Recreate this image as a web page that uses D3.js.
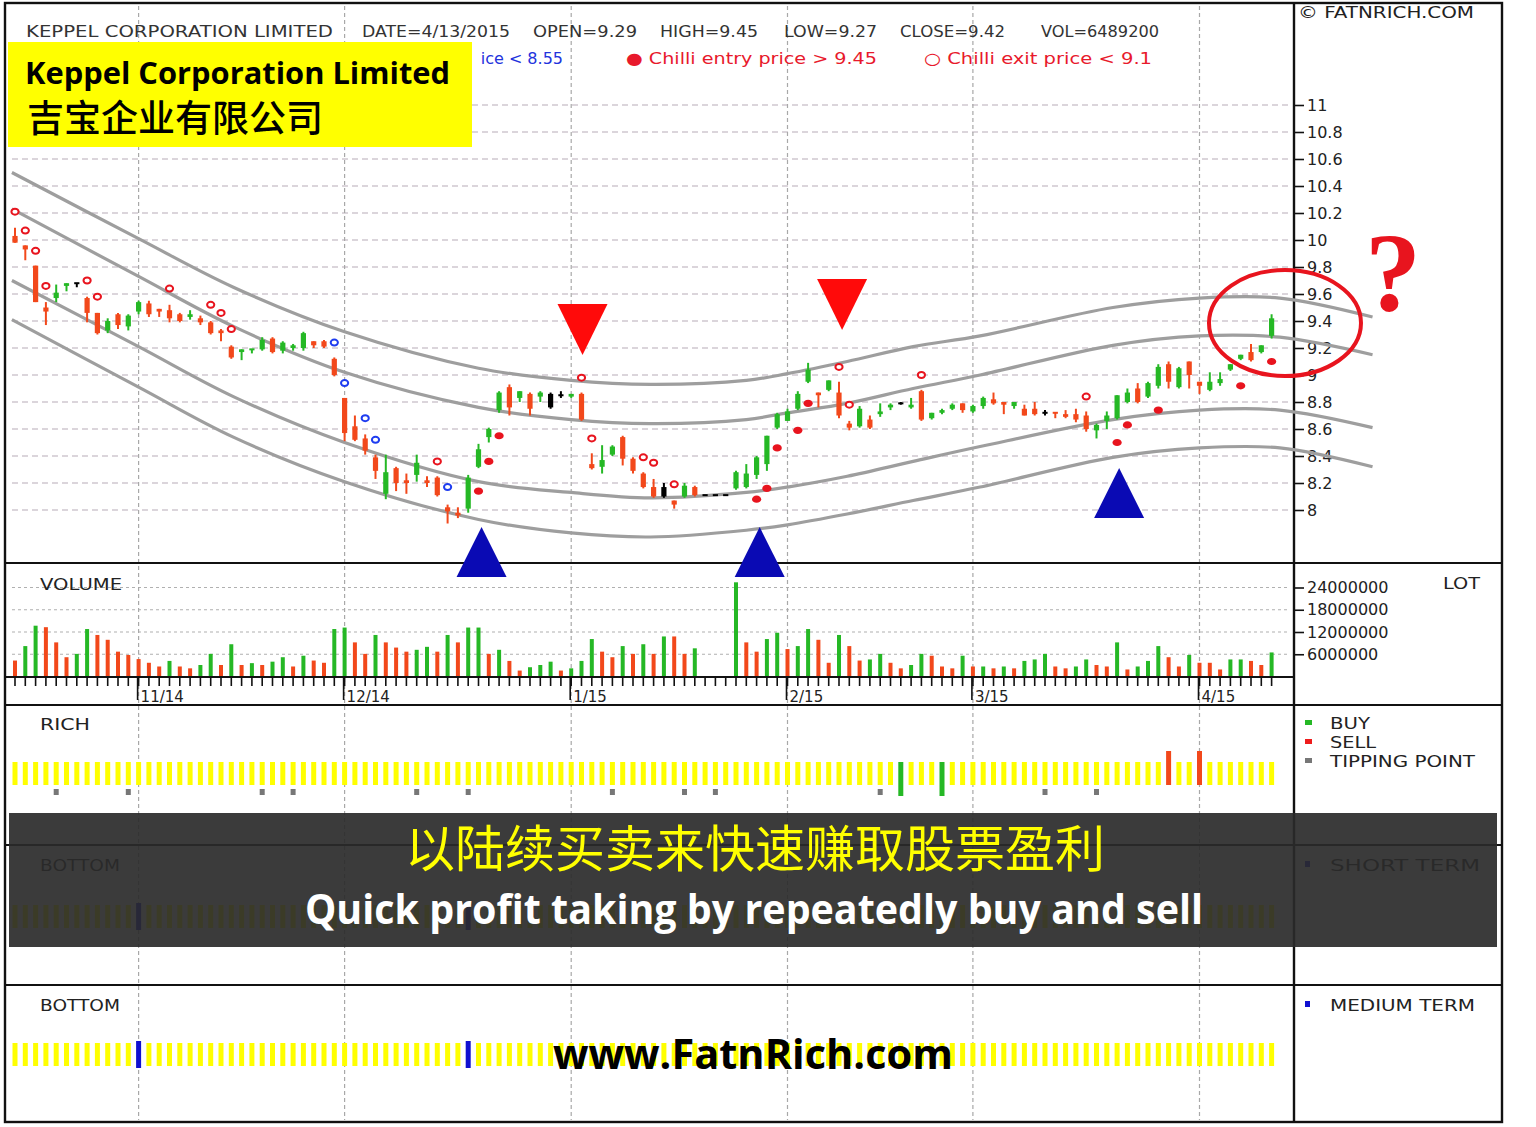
<!DOCTYPE html>
<html><head><meta charset="utf-8">
<script src="https://cdn.jsdelivr.net/npm/d3@7"></script>
<style>body{margin:0;background:#fff}svg{display:block}</style>
</head><body>
<svg id="c" width="1536" height="1127"></svg>
<script>
// ---------------- DATA ----------------
const monthLabels = ["11/14","12/14","1/15","2/15","3/15","4/15"];
const monthIdx = [12,32,54,75,93,115];

const open = [10.03,9.96,9.81,9.50,9.57,9.66,9.68,9.57,9.46,9.33,9.45,9.36,9.47,9.53,9.49,9.48,9.45,9.43,9.42,9.39,
9.33,9.21,9.17,9.18,9.19,9.27,9.18,9.20,9.20,9.25,9.25,9.12,8.83,8.62,8.53,8.39,8.12,8.31,8.22,8.26,
8.22,8.24,8.02,7.98,8.01,8.32,8.54,8.74,8.91,8.83,8.86,8.84,8.86,8.85,8.84,8.86,8.34,8.32,8.41,8.54,
8.38,8.27,8.17,8.17,8.07,8.10,8.17,8.11,8.11,8.11,8.16,8.17,8.26,8.34,8.61,8.66,8.75,8.95,8.87,8.89,
8.87,8.64,8.62,8.67,8.71,8.76,8.79,8.76,8.88,8.68,8.72,8.75,8.79,8.73,8.77,8.82,8.80,8.77,8.75,8.75,
8.72,8.72,8.71,8.71,8.70,8.59,8.66,8.68,8.80,8.90,8.84,8.92,9.08,8.91,9.10,8.95,8.89,8.94,9.04,9.12,
9.17,9.17,9.29];
const high = [10.09,9.96,9.81,9.54,9.67,9.68,9.68,9.58,9.46,9.42,9.46,9.45,9.55,9.55,9.49,9.52,9.46,9.48,9.44,9.40,
9.34,9.22,9.19,9.19,9.28,9.28,9.25,9.23,9.32,9.25,9.26,9.13,8.83,8.70,8.56,8.41,8.41,8.32,8.27,8.41,
8.25,8.25,8.04,8.02,8.26,8.49,8.61,8.88,8.93,8.88,8.87,8.88,8.87,8.88,8.86,8.87,8.42,8.48,8.48,8.55,
8.39,8.28,8.23,8.20,8.07,8.20,8.18,8.11,8.11,8.11,8.29,8.34,8.40,8.55,8.72,8.75,8.88,9.09,8.87,8.96,
8.95,8.66,8.77,8.70,8.79,8.79,8.80,8.83,8.89,8.72,8.75,8.79,8.79,8.78,8.84,8.87,8.80,8.80,8.78,8.80,
8.74,8.72,8.74,8.75,8.73,8.64,8.73,8.85,8.90,8.94,8.95,9.08,9.10,9.06,9.10,8.95,9.02,9.02,9.08,9.15,
9.23,9.22,9.45];
const low = [9.98,9.85,9.54,9.37,9.54,9.62,9.65,9.39,9.30,9.31,9.34,9.33,9.45,9.43,9.43,9.39,9.39,9.41,9.37,9.30,
9.25,9.12,9.11,9.16,9.18,9.16,9.16,9.18,9.18,9.20,9.20,8.99,8.51,8.51,8.41,8.23,8.08,8.14,8.12,8.21,
8.17,8.10,7.90,7.94,7.98,8.31,8.50,8.72,8.70,8.80,8.70,8.80,8.75,8.83,8.83,8.66,8.30,8.27,8.40,8.33,
8.27,8.16,8.09,8.09,8.01,8.09,8.10,8.11,8.11,8.11,8.15,8.16,8.23,8.29,8.60,8.66,8.74,8.94,8.76,8.88,
8.68,8.59,8.61,8.60,8.69,8.74,8.78,8.75,8.66,8.67,8.71,8.74,8.72,8.72,8.75,8.78,8.71,8.75,8.70,8.70,
8.70,8.68,8.68,8.65,8.58,8.53,8.60,8.67,8.79,8.79,8.83,8.90,8.90,8.90,8.90,8.86,8.88,8.92,9.03,9.11,
9.10,9.16,9.27];
const close = [9.98,9.93,9.54,9.47,9.61,9.68,9.68,9.46,9.31,9.40,9.37,9.44,9.54,9.45,9.47,9.42,9.40,9.45,9.39,9.31,
9.31,9.13,9.19,9.19,9.26,9.17,9.24,9.22,9.31,9.22,9.21,9.00,8.57,8.52,8.44,8.29,8.28,8.20,8.20,8.35,
8.20,8.11,7.99,7.96,8.24,8.45,8.60,8.87,8.76,8.88,8.75,8.87,8.76,8.85,8.86,8.67,8.31,8.37,8.47,8.38,
8.29,8.17,8.10,8.10,8.04,8.18,8.11,8.11,8.11,8.11,8.28,8.27,8.39,8.55,8.71,8.73,8.86,9.04,8.85,8.96,
8.70,8.61,8.75,8.61,8.73,8.78,8.79,8.78,8.67,8.72,8.74,8.78,8.74,8.77,8.83,8.79,8.78,8.80,8.70,8.71,
8.72,8.71,8.69,8.67,8.60,8.63,8.70,8.85,8.87,8.80,8.94,9.06,8.95,9.05,9.00,8.92,8.95,8.97,9.08,9.15,
9.11,9.22,9.42];
const unchangedIdx = [6,52,53,63,67,68,69,86,100];

const volumeM = [4.3,8.2,13.7,13.3,9.2,5.2,6.1,12.8,11.2,9.9,6.7,5.8,4.7,3.7,2.7,4.2,2.7,2.2,3.1,6.1,
3.1,8.7,3.1,3.6,3.1,4.0,5.2,2.7,5.6,4.3,3.7,12.8,13.2,9.2,6.1,11.2,9.2,7.8,6.7,7.2,
8.0,6.7,11.2,9.2,13.2,13.2,6.1,7.2,4.2,1.6,2.5,3.1,4.0,1.6,2.2,4.2,10.1,6.7,5.2,8.2,
6.1,8.7,6.1,10.8,10.8,6.1,7.6,0,0,0,25.4,9.2,6.7,10.1,11.8,7.4,8.2,12.8,9.9,3.7,
11.2,8.2,4.3,4.6,6.1,3.7,2.2,3.1,6.1,5.6,2.7,2.2,5.6,2.7,2.7,2.2,2.7,2.2,4.2,4.6,
6.1,2.7,2.2,2.7,4.6,3.1,2.7,9.2,1.9,2.7,4.2,8.2,5.2,2.7,5.8,3.7,3.7,1.9,4.6,4.6,
4.2,3.1,6.4892];
const volumeSide = ("rggrrrggrr"+"rrrrrgrrgg"+"rgrgrggrgr"+"rggrrgrrrg"+"grgrggrgrr"+"gggrgggrrg"+
  "rgrgrrgggg"+"grrggrggrr"+"grrggrrggr"+"rrgrgrgrgg"+"grrggrrgrg"+"ggrrgrrrgg"+"rrg").split("");

const exitRed = [[0,10.21],[1,10.07],[2,9.92],[3,9.66],[7,9.70],[8,9.58],[15,9.64],[19,9.52],[20,9.46],[21,9.34],
  [41,8.36],[55,8.98],[56,8.53],[61,8.39],[62,8.35],[64,8.19],[80,9.06],[81,8.78],[88,9.00],[104,8.84]];
const entryRed = [[45,8.14],[46,8.36],[47,8.55],[72,8.08],[73,8.16],[74,8.46],[76,8.59],[77,8.79],
  [107,8.50],[108,8.63],[111,8.74],[119,8.92],[122,9.10]];
const exitBlue = [[31,9.24],[32,8.94],[34,8.68],[35,8.52],[42,8.17]];

const bandIdx = [-0.3,12,21.2,32,45,54,61.7,71,75,80.8,87.2,93.7,106.6,115,122.8,131.8];
const bandA = [10.50,10.01,9.65,9.32,9.05,8.96,8.93,8.96,9.01,9.10,9.21,9.29,9.50,9.57,9.57,9.43];
const bandB = [10.23,9.73,9.36,9.02,8.76,8.67,8.64,8.67,8.72,8.79,8.90,9.00,9.22,9.29,9.28,9.15];
const bandC = [9.70,9.21,8.84,8.50,8.21,8.13,8.09,8.13,8.17,8.25,8.36,8.47,8.67,8.74,8.74,8.61];
const bandD = [9.41,8.91,8.54,8.21,7.93,7.83,7.80,7.85,7.89,7.97,8.07,8.17,8.39,8.46,8.46,8.32];

const upMarkIdx = [45.3,72.3,107.2], upMarkPrice = [7.874,7.874,8.311];
const downMarkIdx = [55.1,80.3], downMarkPrice = [9.148,9.333];

const richTipping = [4,11,24,27,39,44,58,65,68,84,100,105];
const richBuy = [86,90];
const richSell = [112,115];
const bottomShort = [12,44];
const bottomMedium = [12,44];

const priceTicks = [11,10.8,10.6,10.4,10.2,10,9.8,9.6,9.4,9.2,9,8.8,8.6,8.4,8.2,8];
const volTicks = [24000000,18000000,12000000,6000000];

// ---------------- DRAW ----------------
const svg = d3.select("#c");
const GREEN = "#25b825", RED = "#f2481b", GRID = "#b8acb8";
const X0 = 5, X1 = 1502, AX = 1294;
const FONT = "DejaVu Sans, Liberation Sans, sans-serif";
const n = open.length;

const x = d3.scaleLinear().domain([0, 122]).range([15, 1271.6]);
const yP = d3.scaleLinear().domain([8, 11]).range([510, 105]);
const yV = d3.scaleLinear().domain([0, 24000000]).range([676.5, 587.5]);

svg.append("rect").attr("width",1536).attr("height",1127).attr("fill","#fff");

function txt(str, px, py, o={}) {
  const t = svg.append("text").attr("x",px).attr("y",py).text(str)
    .attr("font-family", o.family || FONT).attr("font-size", o.size || 15)
    .attr("fill", o.fill || "#222");
  if (o.weight) t.attr("font-weight", o.weight);
  if (o.anchor) t.attr("text-anchor", o.anchor);
  if (o.w) t.attr("textLength", o.w).attr("lengthAdjust", o.adjust || "spacingAndGlyphs");
  return t;
}

// price grid
svg.append("g").selectAll("line").data(priceTicks).join("line")
  .attr("x1",12).attr("x2",1290).attr("y1",d=>yP(d)).attr("y2",d=>yP(d))
  .attr("stroke",GRID).attr("stroke-width",1.2).attr("stroke-dasharray","6,4");
// volume grid
svg.append("g").selectAll("line").data(volTicks).join("line")
  .attr("x1",12).attr("x2",1290).attr("y1",d=>yV(d)).attr("y2",d=>yV(d))
  .attr("stroke","#b0b0b0").attr("stroke-width",1.2).attr("stroke-dasharray","3,3");
// month vertical grid through all panels
svg.append("g").selectAll("line").data(monthIdx).join("line")
  .attr("x1",d=>x(d)).attr("x2",d=>x(d)).attr("y1",6).attr("y2",1120)
  .attr("stroke","#a8a8a8").attr("stroke-width",1.2).attr("stroke-dasharray","4,3");

// frame & panel separators (under the marks)
[563,705,845,985].forEach(yy=>svg.append("line").attr("x1",X0).attr("x2",X1).attr("y1",yy).attr("y2",yy)
  .attr("stroke","#111").attr("stroke-width",2));
svg.append("line").attr("x1",AX).attr("x2",AX).attr("y1",3).attr("y2",1122).attr("stroke","#111").attr("stroke-width",2.4);
svg.append("rect").attr("x",X0).attr("y",3).attr("width",X1-X0).attr("height",1119)
  .attr("fill","none").attr("stroke","#111").attr("stroke-width",2.4);

// axes on right
const pa = svg.append("g").attr("transform",`translate(${AX},0)`)
  .call(d3.axisRight(yP).tickValues(priceTicks).tickSize(10).tickPadding(3).tickFormat(d=>String(d)));
pa.select(".domain").remove();
pa.selectAll("line").attr("stroke","#111").attr("stroke-width",1.6);
pa.selectAll("text").attr("font-family",FONT).attr("font-size",16).attr("fill","#222");
const va = svg.append("g").attr("transform",`translate(${AX},0)`)
  .call(d3.axisRight(yV).tickValues(volTicks).tickSize(10).tickPadding(3).tickFormat(d=>String(d)));
va.select(".domain").remove();
va.selectAll("line").attr("stroke","#111").attr("stroke-width",1.6);
va.selectAll("text").attr("font-family",FONT).attr("font-size",16).attr("fill","#222");

// channel curves
const bandLine = d3.line().x(d=>x(d[0])).y(d=>yP(d[1])).curve(d3.curveCatmullRom);
[bandA,bandB,bandC,bandD].forEach(b=>{
  svg.append("path").attr("d", bandLine(bandIdx.map((v,i)=>[v,b[i]])))
    .attr("fill","none").attr("stroke","#9e9e9e").attr("stroke-width",3.2);
});

// candles
const candles = d3.range(n).map(i=>({i,o:open[i],h:high[i],l:low[i],c:close[i]}));
const cCol = d => unchangedIdx.includes(d.i) ? "#000" : (d.c >= d.o ? GREEN : RED);
const cg = svg.append("g");
cg.selectAll("line").data(candles).join("line")
  .attr("x1",d=>x(d.i)).attr("x2",d=>x(d.i)).attr("y1",d=>yP(d.h)).attr("y2",d=>yP(d.l))
  .attr("stroke",cCol).attr("stroke-width",2);
cg.selectAll("rect").data(candles).join("rect")
  .attr("x",d=>x(d.i)-2.6).attr("width",5.2)
  .attr("y",d=>Math.min(yP(d.o),yP(d.c))-(Math.abs(yP(d.o)-yP(d.c))<2?1:0))
  .attr("height",d=>Math.max(2,Math.abs(yP(d.o)-yP(d.c))))
  .attr("fill",cCol);

// markers
svg.append("g").selectAll("ellipse").data(exitRed).join("ellipse")
  .attr("cx",d=>x(d[0])).attr("cy",d=>yP(d[1])).attr("rx",3.6).attr("ry",3)
  .attr("fill","#fff").attr("stroke","#e8141e").attr("stroke-width",2);
svg.append("g").selectAll("ellipse").data(entryRed).join("ellipse")
  .attr("cx",d=>x(d[0])).attr("cy",d=>yP(d[1])).attr("rx",4.6).attr("ry",3.6)
  .attr("fill","#e8141e");
svg.append("g").selectAll("ellipse").data(exitBlue).join("ellipse")
  .attr("cx",d=>x(d[0])).attr("cy",d=>yP(d[1])).attr("rx",3.6).attr("ry",3)
  .attr("fill","#fff").attr("stroke","#1e3cf0").attr("stroke-width",2);

// volume bars
svg.append("g").selectAll("rect").data(volumeM).join("rect")
  .attr("x",(d,i)=>x(i)-2).attr("width",4)
  .attr("y",d=>yV(d*1e6)).attr("height",d=>yV(0)-yV(d*1e6))
  .attr("fill",(d,i)=>volumeSide[i]==="g"?GREEN:RED);

// x axis (volume panel)
svg.append("line").attr("x1",X0).attr("x2",AX).attr("y1",677).attr("y2",677).attr("stroke","#111").attr("stroke-width",2);
svg.append("g").selectAll("line").data(d3.range(n)).join("line")
  .attr("x1",d=>x(d)).attr("x2",d=>x(d)).attr("y1",677).attr("y2",686)
  .attr("stroke","#111").attr("stroke-width",1.6);
svg.append("g").selectAll("line").data(monthIdx).join("line")
  .attr("x1",d=>x(d)-1).attr("x2",d=>x(d)-1).attr("y1",677).attr("y2",700)
  .attr("stroke","#111").attr("stroke-width",1.6);
svg.append("g").selectAll("text").data(monthLabels).join("text")
  .attr("x",(d,i)=>x(monthIdx[i])+2).attr("y",702).text(d=>d)
  .attr("font-family",FONT).attr("font-size",15).attr("fill","#222");

// RICH panel
const ry0 = 762, ry1 = 785;
svg.append("g").selectAll("rect").data(d3.range(n)).join("rect")
  .attr("x",d=>x(d)-2.5).attr("width",5)
  .attr("y",d=>richSell.includes(d)?751:ry0)
  .attr("height",d=>richSell.includes(d)?ry1-751:(richBuy.includes(d)?796-ry0:ry1-ry0))
  .attr("fill",d=>richSell.includes(d)?RED:(richBuy.includes(d)?GREEN:"#ffff00"));
svg.append("g").selectAll("rect").data(richTipping).join("rect")
  .attr("x",d=>x(d)-2.5).attr("width",5).attr("y",789).attr("height",6).attr("fill","#777");

// BOTTOM panels
[[905,928,bottomShort],[1043,1066,bottomMedium]].forEach(([a,b,sig])=>{
  svg.append("g").selectAll("rect").data(d3.range(n)).join("rect")
    .attr("x",d=>x(d)-2.5).attr("width",5)
    .attr("y",d=>sig.includes(d)?a-2:a).attr("height",d=>sig.includes(d)?b-a+4:b-a)
    .attr("fill",d=>sig.includes(d)?"#1010d0":"#ffff00");
});

// signal triangles (drawn over panel lines)
svg.append("g").selectAll("path").data(upMarkIdx).join("path")
  .attr("d",(d,i)=>{const ax=x(d), ay=yP(upMarkPrice[i]); return `M${ax},${ay}L${ax+25},${ay+50}L${ax-25},${ay+50}Z`;})
  .attr("fill","#0a0ab4");
svg.append("g").selectAll("path").data(downMarkIdx).join("path")
  .attr("d",(d,i)=>{const ax=x(d), ay=yP(downMarkPrice[i]); return `M${ax},${ay}L${ax+25},${ay-51}L${ax-25},${ay-51}Z`;})
  .attr("fill","#ff0a0a");

// ellipse + question mark
svg.append("ellipse").attr("cx",x(123.3)).attr("cy",yP(9.385)).attr("rx",76).attr("ry",53)
  .attr("fill","none").attr("stroke","#e8141e").attr("stroke-width",4);
txt("?", 1365, 310, {family:"Liberation Serif, serif", size:112, weight:"bold", fill:"#e8141e"});

// panel labels & legends
txt("VOLUME", 40, 590, {w:82});
txt("LOT", 1443, 589, {w:37});
txt("RICH", 40, 730, {w:50});
[["BUY",GREEN,729,40],["SELL","#ee1c1c",748,46],["TIPPING POINT","#777",767,145]].forEach(([s,c,yy,w])=>{
  svg.append("rect").attr("x",1305).attr("y",yy-9).attr("width",7).attr("height",5).attr("fill",c);
  txt(s, 1330, yy, {w});
});
txt("BOTTOM", 40, 871, {w:80});
svg.append("rect").attr("x",1305).attr("y",861).attr("width",5).attr("height",6).attr("fill","#1010d0");
txt("SHORT TERM", 1330, 871, {w:150});
txt("BOTTOM", 40, 1011, {w:80});
svg.append("rect").attr("x",1305).attr("y",1001).attr("width",5).attr("height",6).attr("fill","#1010d0");
txt("MEDIUM TERM", 1330, 1011, {w:145});

// header
txt("© FATNRICH.COM", 1298, 18, {w:176});
txt("KEPPEL CORPORATION  LIMITED", 26, 37, {size:16, w:307, fill:"#333"});
[["DATE=4/13/2015",362,148],["OPEN=9.29",533,104],["HIGH=9.45",660,98],["LOW=9.27",784,93],
 ["CLOSE=9.42",900,105],["VOL=6489200",1041,118]].forEach(([s,px,w])=>txt(s,px,37,{size:16,w,fill:"#333"}));
txt("ice < 8.55", 563, 64, {size:16, anchor:"end", fill:"#2233dd"});
txt("● Chilli entry price > 9.45", 626, 64, {size:16, w:251, fill:"#e8192c"});
txt("○ Chilli exit price < 9.1", 924, 64, {size:16, w:228, fill:"#e8192c"});

// title box
svg.append("rect").attr("x",8).attr("y",42).attr("width",464).attr("height",105).attr("fill","#ffff00");
txt("Keppel Corporation Limited", 25, 84, {family:"Open Sans, Lato, sans-serif", size:30, weight:"bold", w:425, fill:"#000"});
txt("吉宝企业有限公司", 27, 132, {family:"Noto Sans CJK SC, sans-serif", size:37, weight:500, fill:"#000"});

// overlay banner
svg.append("rect").attr("x",9).attr("y",813).attr("width",1488).attr("height",134).attr("fill","#2a2a2a").attr("opacity",0.92);
txt("以陆续买卖来快速赚取股票盈利", 755, 867, {family:"Noto Sans CJK SC, sans-serif", size:50, anchor:"middle", fill:"#ffff00", w:700});
txt("Quick profit taking by repeatedly buy and sell", 305, 924, {family:"Open Sans, Lato, sans-serif", size:41, weight:"bold", fill:"#fff", w:898});

// website
txt("www.FatnRich.com", 553, 1069, {family:"Open Sans, Lato, sans-serif", size:42, weight:"bold", fill:"#000", w:400});
</script>
</body></html>
